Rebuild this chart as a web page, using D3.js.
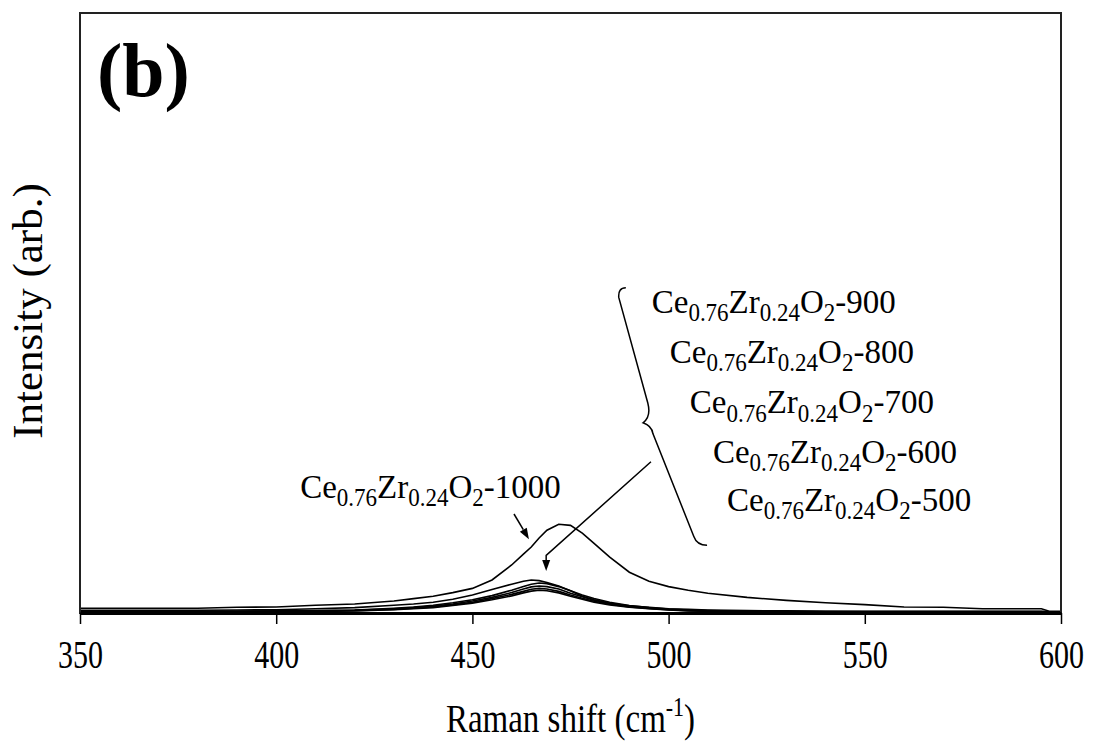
<!DOCTYPE html>
<html>
<head>
<meta charset="utf-8">
<script src="https://cdn.jsdelivr.net/npm/d3@7"></script>
<style>
  body { margin: 0; background: #fff; }
  svg { display: block; }
  svg text { font-family: "Times New Roman", "Liberation Serif", "DejaVu Serif", serif; fill: #000; }
</style>
</head>
<body>
<figure id="raman" style="margin:0"></figure>
<script>
// Raman shift grid (cm-1) shared by all spectra
var shift = [350, 360, 370, 380, 390, 400, 410, 420, 430, 435, 440, 445, 450, 455, 460, 463, 465, 467, 469, 472,
             475, 478, 481, 485, 490, 495, 500, 505, 510, 520, 530, 540, 550, 560, 570, 580, 590, 595, 597, 600];

// intensities (arb.)
var i1000 = [0.8, 0.8, 0.8, 0.8, 0.95, 1.0, 1.3, 1.5, 2.0, 2.4, 2.8, 3.4, 4.1, 5.5, 8.0, 9.8, 11.0, 12.5, 13.8, 14.8,
             14.6, 13.3, 11.6, 9.3, 6.8, 5.3, 4.4, 3.8, 3.3, 2.6, 2.1, 1.7, 1.4, 1.0, 0.95, 0.7, 0.7, 0.7, 0.3, 0.3];
var i900  = [0.45, 0.45, 0.45, 0.45, 0.5, 0.55, 0.7, 0.9, 1.3, 1.5, 1.8, 2.3, 3.0, 3.9, 4.8, 5.3, 5.5, 5.4, 5.1, 4.5,
             3.7, 2.8, 2.2, 1.6, 1.2, 0.95, 0.7, 0.6, 0.5, 0.4, 0.35, 0.3, 0.3, 0.3, 0.3, 0.3, 0.3, 0.3, 0.2, 0.2];
var i800  = [0.3, 0.3, 0.3, 0.3, 0.3, 0.35, 0.4, 0.5, 0.8, 1.0, 1.3, 1.7, 2.2, 2.9, 3.8, 4.4, 4.8, 5.0, 4.9, 4.4,
             3.7, 3.0, 2.4, 1.8, 1.25, 0.9, 0.65, 0.5, 0.4, 0.3, 0.3, 0.25, 0.25, 0.25, 0.25, 0.25, 0.25, 0.25, 0.2, 0.2];
var i700  = [0.3, 0.3, 0.3, 0.3, 0.3, 0.3, 0.35, 0.45, 0.7, 0.9, 1.15, 1.5, 2.0, 2.6, 3.4, 4.0, 4.35, 4.5, 4.4, 4.0,
             3.3, 2.7, 2.15, 1.6, 1.1, 0.8, 0.6, 0.45, 0.35, 0.3, 0.25, 0.25, 0.2, 0.2, 0.2, 0.2, 0.2, 0.2, 0.15, 0.15];
var i600  = [0.25, 0.25, 0.25, 0.25, 0.25, 0.25, 0.3, 0.4, 0.6, 0.8, 1.0, 1.35, 1.8, 2.4, 3.1, 3.6, 3.95, 4.1, 4.0, 3.6,
             3.0, 2.45, 1.95, 1.45, 1.0, 0.75, 0.55, 0.4, 0.3, 0.25, 0.2, 0.2, 0.2, 0.2, 0.2, 0.2, 0.2, 0.2, 0.15, 0.15];
var i500  = [0.2, 0.2, 0.2, 0.2, 0.2, 0.2, 0.25, 0.35, 0.55, 0.7, 0.9, 1.25, 1.65, 2.2, 2.85, 3.35, 3.65, 3.8, 3.7, 3.35,
             2.8, 2.3, 1.8, 1.35, 0.95, 0.7, 0.5, 0.35, 0.3, 0.25, 0.2, 0.15, 0.15, 0.15, 0.15, 0.15, 0.15, 0.15, 0.1, 0.1];

var series = [i1000, i900, i800, i700, i600, i500];
var xTicks = [350, 400, 450, 500, 550, 600];

// sample labels: temperature, anchor [shift, intensity]
var labelTemps = ["900", "800", "700", "600", "500", "1000"];
var labelAt = [[495.7, 50.0], [500.3, 41.7], [505.4, 33.3], [511.3, 25.0], [514.9, 17.0], [406.1, 19.2]];

// set the dimensions and margins of the graph
var margin = {top: 13, right: 32, bottom: 132, left: 80},
  width = 1093 - margin.left - margin.right,
  height = 745 - margin.top - margin.bottom;

var svg = d3.select("figure#raman")
.append("svg")
  .attr("width", width + margin.left + margin.right)
  .attr("height", height + margin.top + margin.bottom)
  .attr("font-family", "Times New Roman, Liberation Serif, serif")
.append("g")
  .attr("transform", "translate(" + margin.left + "," + margin.top + ")");

var x = d3.scaleLinear().domain([350, 600]).range([0, width]);
var y = d3.scaleLinear().domain([0, 100]).range([height, 0]);

// spectra
var line = d3.line()
  .x(function(d, i) { return x(shift[i]); })
  .y(function(d) { return y(d); });

svg.append("g")
  .selectAll("path")
  .data(series)
  .enter()
  .append("path")
    .attr("d", line)
    .attr("fill", "none")
    .attr("stroke", "#000")
    .attr("stroke-width", 1.6);

// frame
svg.append("rect")
  .attr("width", width)
  .attr("height", height)
  .attr("fill", "none")
  .attr("stroke", "#222")
  .attr("stroke-width", 2);

// X axis
var xAxis = svg.append("g")
  .attr("transform", "translate(0," + height + ")")
  .call(d3.axisBottom(x).tickValues(xTicks).tickSize(11).tickSizeOuter(0).tickFormat(d3.format("d")))
  .attr("font-family", null)
  .attr("font-size", null);
xAxis.select(".domain").attr("stroke", "#000").attr("stroke-width", 3);
xAxis.selectAll(".tick line").attr("stroke", "#000").attr("stroke-width", 1.5);
xAxis.selectAll(".tick text")
  .attr("y", 0).attr("dy", 0)
  .attr("font-size", 30)
  .attr("transform", "translate(0,55) scale(1,1.3)");

// axis titles
var xt = svg.append("text")
  .attr("text-anchor", "middle")
  .attr("font-size", 33)
  .attr("transform", "translate(" + (width / 2) + "," + (height + 119) + ") scale(1,1.2)");
xt.append("tspan").text("Raman shift (cm");
xt.append("tspan").attr("font-size", 22).attr("dy", -13).text("-1");
xt.append("tspan").attr("dy", 13).text(")");

svg.append("text")
  .attr("text-anchor", "middle")
  .attr("font-size", 43)
  .attr("transform", "translate(-38," + (height / 2 - 2) + ") rotate(-90)")
  .text("Intensity (arb.)");

// panel letter
svg.append("text")
  .attr("x", 17)
  .attr("y", 83)
  .attr("font-size", 76)
  .attr("font-weight", "bold")
  .text("(b)");

// sample labels
labelAt.forEach(function(p, k) {
  var t = svg.append("text")
    .attr("font-size", 33)
    .attr("transform", "translate(" + x(p[0]) + "," + y(p[1]) + ") scale(1,1.05)");
  t.append("tspan").text("Ce");
  t.append("tspan").attr("font-size", 23).attr("dy", 8).text("0.76");
  t.append("tspan").attr("dy", -8).text("Zr");
  t.append("tspan").attr("font-size", 23).attr("dy", 8).text("0.24");
  t.append("tspan").attr("dy", -8).text("O");
  t.append("tspan").attr("font-size", 23).attr("dy", 8).text("2");
  t.append("tspan").attr("dy", -8).text("-" + labelTemps[k]);
});

// brace grouping the 900..500 labels
var brace = [[489.1, 54.2], [487.1, 54.2], [487.3, 52.6], [494.7, 35.0], [495.6, 32.7], [493.5, 31.7],
             [495.7, 31.2], [496.0, 29.9], [506.4, 12.8], [507.2, 11.3], [509.8, 11.3]];
var bp = brace.map(function(d) { return [x(d[0]), y(d[1])]; });
svg.append("path")
  .attr("d", "M" + bp[0] + "Q" + bp[1] + " " + bp[2] + "L" + bp[3] + "Q" + bp[4] + " " + bp[5] +
             "Q" + bp[6] + " " + bp[7] + "L" + bp[8] + "Q" + bp[9] + " " + bp[10])
  .attr("fill", "none")
  .attr("stroke", "#000")
  .attr("stroke-width", 1.5);

// arrows
var arrows = [
  [[495.5, 25.2], [468.8, 9.6], [468.8, 7.0]],
  [[460.6, 16.5], [464.4, 12.3]]
];
arrows.forEach(function(a) {
  var pts = a.map(function(d) { return [x(d[0]), y(d[1])]; });
  var tip = pts[pts.length - 1], prev = pts[pts.length - 2];
  var ang = Math.atan2(tip[1] - prev[1], tip[0] - prev[0]);
  var len = 11, w = 4;
  var base = [tip[0] - len * Math.cos(ang), tip[1] - len * Math.sin(ang)];
  var shaft = pts.slice(0, -1).concat([base]);
  svg.append("path")
    .attr("d", d3.line()(shaft))
    .attr("fill", "none")
    .attr("stroke", "#000")
    .attr("stroke-width", 1.5);
  svg.append("path")
    .attr("d", "M" + tip + "L" + [base[0] - w * Math.sin(ang), base[1] + w * Math.cos(ang)] +
               "L" + [base[0] + w * Math.sin(ang), base[1] - w * Math.cos(ang)] + "Z")
    .attr("fill", "#000");
});
</script>
</body>
</html>
